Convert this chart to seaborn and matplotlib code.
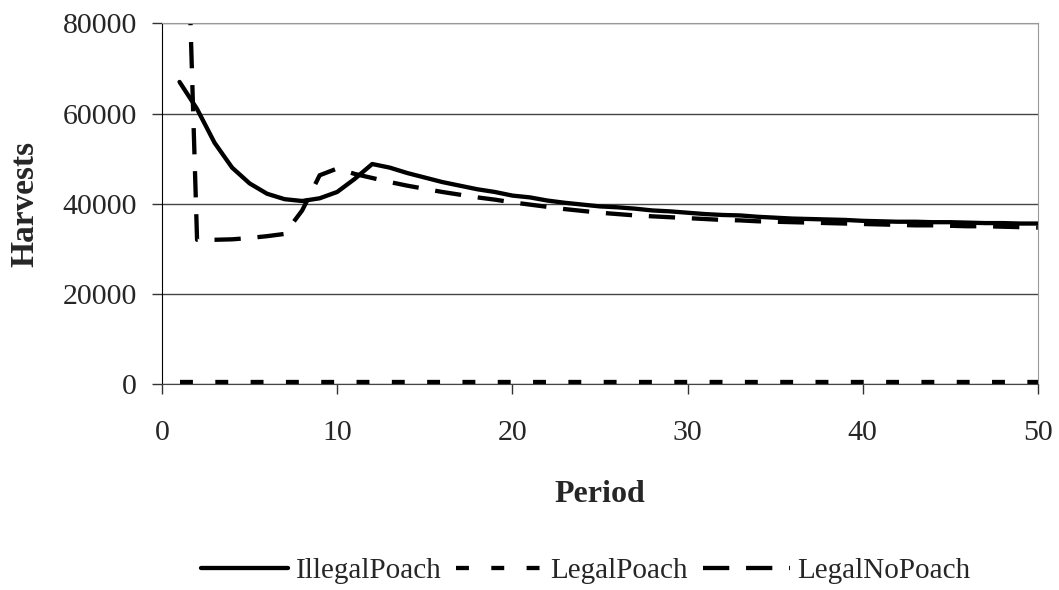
import matplotlib.pyplot as plt
import matplotlib.ticker as tck
import pandas as pd
import seaborn as sns

periods = list(range(1, 51))

illegal_poach = [67000, 61000, 53500, 48000, 44500, 42200, 41000, 40600, 41200, 42600,
                 45500, 48800, 48000, 46800, 45800, 44800, 44000, 43200, 42600, 41800,
                 41400, 40700, 40200, 39800, 39400, 39200, 38900, 38500, 38300, 38000,
                 37700, 37500, 37400, 37100, 36900, 36700, 36600, 36500, 36400, 36200,
                 36100, 36000, 36000, 35900, 35900, 35800, 35700, 35700, 35600, 35600]

legal_poach = [500] * 50

legal_no_poach = [160000, 32000, 32000, 32100, 32400, 32800, 33300, 38500, 46300, 47800,
                  46600, 45700, 44800, 44000, 43300, 42600, 42000, 41400, 40900, 40300,
                  39800, 39300, 38800, 38400, 38000, 37700, 37400, 37200, 37000, 36800,
                  36600, 36400, 36300, 36100, 36000, 35900, 35800, 35700, 35600, 35500,
                  35400, 35300, 35200, 35200, 35100, 35000, 35000, 34900, 34800, 34700]

series_names = ["IllegalPoach", "LegalPoach", "LegalNoPoach"]

frame = pd.concat([
    pd.DataFrame({"Period": periods, "Harvests": vals, "series": name})
    for name, vals in zip(series_names, [illegal_poach, legal_poach, legal_no_poach])
])

sns.set_style("white")
plt.rcParams["font.family"] = ["Liberation Serif", "DejaVu Serif"]

fig, ax = plt.subplots(figsize=(10.59, 5.90), dpi=100)
fig.subplots_adjust(left=0.153, right=0.980, top=0.9605, bottom=0.349)

dashes = {"IllegalPoach": "", "LegalPoach": (3.0, 5.2), "LegalNoPoach": (6.1, 3.9)}
sns.lineplot(data=frame, x="Period", y="Harvests", style="series", dashes=dashes,
             color="black", linewidth=3.1, ax=ax, legend=True)

ax.set_xlim(0, 50)
ax.set_ylim(0, 80000)
ax.xaxis.set_major_locator(tck.MultipleLocator(10))
ax.yaxis.set_major_locator(tck.MultipleLocator(20000))
ax.yaxis.grid(True, color="#444444", linewidth=1.0)
ax.set_axisbelow(True)
ax.tick_params(axis="both", labelsize=21.5, direction="out", length=7, width=1,
               color="#333333", left=True, bottom=True)
ax.tick_params(axis="x", pad=19)
ax.tick_params(axis="y", pad=11)
ax.spines["left"].set_color("black")
ax.spines["bottom"].set_color("#444444")
for side in ["top", "right"]:
    ax.spines[side].set_color("#999999")

ax.set_xlabel("Period", fontsize=23, fontweight="bold", va="top")
ax.xaxis.set_label_coords(0.5, -0.265)
ax.set_ylabel("Harvests", fontsize=24, fontweight="bold")
ax.yaxis.set_label_coords(-0.139, 0.5)

handles, labels = ax.get_legend_handles_labels()
ax.get_legend().remove()
fig.legend(handles, labels, loc="center", bbox_to_anchor=(0.553, 0.032), ncol=3,
           frameon=False, fontsize=21, handlelength=3.0, handletextpad=0.25,
           columnspacing=0.5)

fig.savefig("out.png", dpi=100)
